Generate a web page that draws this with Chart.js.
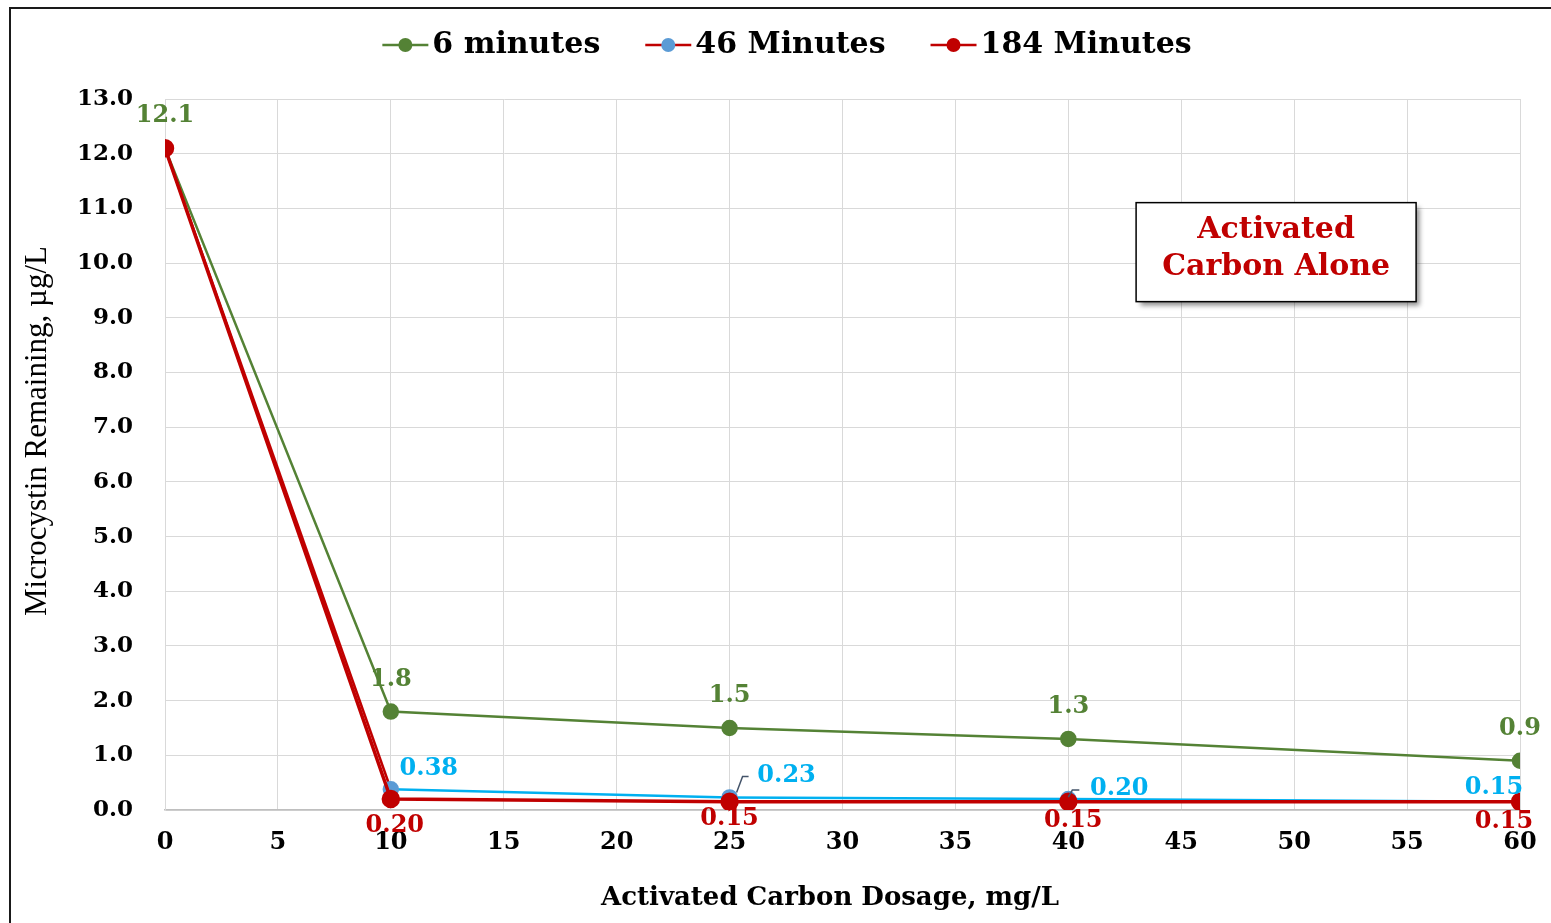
<!DOCTYPE html>
<html>
<head>
<meta charset="utf-8">
<title>Microcystin Remaining vs Activated Carbon Dosage</title>
<script src="https://cdn.jsdelivr.net/npm/chart.js@4/dist/chart.umd.min.js"></script>
<style>
  html, body { margin: 0; padding: 0; background: #fff; overflow: hidden; }
  #wrap { width: 1551px; height: 923px; position: relative; }
  canvas { display: block; }
</style>
</head>
<body>
<div id="wrap"><canvas id="chart" width="1551" height="923"></canvas></div>
<script>
// dosage in mg/L, microcystin remaining in ug/L
const dosages = [0, 10, 25, 40, 60];
const min6 = [12.1, 1.8, 1.5, 1.3, 0.9];
const min46 = [12.1, 0.38, 0.23, 0.20, 0.15];
const min184 = [12.1, 0.20, 0.15, 0.15, 0.15];
const seriesNames = ['6 minutes', '46 Minutes', '184 Minutes'];

const GREEN = '#548235';
const BLUE_LINE = '#00B0F0';
const BLUE_DOT = '#5B9BD5';
const RED = '#C00000';

function toPoints(ys) {
    return dosages.map((x, i) => ({ x: x, y: ys[i] }));
}

// label placement for each series: [dx, dy] from the marker, null = no label
const labelStyle = [
    { color: GREEN, digits: 1, offs: [[0, -32], [0, -32], [0, -32], [0, -32], [0, -32]] },
    { color: BLUE_LINE, digits: 2, offs: [null, [38, -20], [57, -22], [51, -10], [-26, -14]] },
    { color: RED, digits: 2, offs: [null, [4, 27], [0, 17], [5, 19], [-16, 20]] }
];
// small leader lines for the crowded blue labels
const leaders = { 2: [[7, -5], [13, -21], [19, -21]], 3: [[0, -2], [4, -9], [11, -9]] };

const dataLabels = {
    id: 'dataLabels',
    afterDatasetsDraw(chart) {
        const ctx = chart.ctx;
        ctx.save();
        ctx.font = 'bold 24px "DejaVu Serif"';
        ctx.textAlign = 'center';
        ctx.textBaseline = 'middle';
        labelStyle.forEach((st, d) => {
            const meta = chart.getDatasetMeta(d);
            const vals = chart.data.datasets[d].data;
            meta.data.forEach((pt, i) => {
                const o = st.offs[i];
                if (!o) return;
                if (d === 1 && leaders[i]) {
                    ctx.strokeStyle = '#44546A';
                    ctx.lineWidth = 1.5;
                    ctx.beginPath();
                    leaders[i].forEach((p, k) => {
                        if (k === 0) ctx.moveTo(pt.x + p[0], pt.y + p[1]);
                        else ctx.lineTo(pt.x + p[0], pt.y + p[1]);
                    });
                    ctx.stroke();
                }
                ctx.fillStyle = st.color;
                ctx.fillText(vals[i].y.toFixed(st.digits), pt.x + o[0], pt.y + o[1]);
            });
        });
        ctx.restore();
    }
};

// legend, axis titles, note box and outer frame
const decorations = {
    id: 'decorations',
    afterDraw(chart) {
        const ctx = chart.ctx;
        const xs = chart.scales.x, ys = chart.scales.y;
        ctx.save();

        // frame
        ctx.strokeStyle = '#1a1a1a';
        ctx.lineWidth = 2;
        ctx.beginPath();
        ctx.moveTo(10, chart.height);
        ctx.lineTo(10, 8);
        ctx.lineTo(chart.width, 8);
        ctx.stroke();

        // legend
        ctx.font = 'bold 30px "DejaVu Serif"';
        ctx.textBaseline = 'middle';
        ctx.textAlign = 'left';
        const mark = 46, gap = 45, ly = 45;
        const widths = seriesNames.map(n => ctx.measureText(n).width);
        const total = widths.reduce((a, b) => a + b, 0) + seriesNames.length * (mark + 4) + gap * (seriesNames.length - 1);
        let lx = 787 - total / 2;
        chart.data.datasets.forEach((ds, i) => {
            ctx.strokeStyle = ds.borderColor;
            ctx.lineWidth = 2.5;
            ctx.beginPath();
            ctx.moveTo(lx, ly);
            ctx.lineTo(lx + mark, ly);
            ctx.stroke();
            ctx.fillStyle = ds.pointBackgroundColor;
            ctx.beginPath();
            ctx.arc(lx + mark / 2, ly, 7, 0, Math.PI * 2);
            ctx.fill();
            ctx.fillStyle = '#000';
            ctx.fillText(seriesNames[i], lx + mark + 4, ly);
            lx += mark + 4 + widths[i] + gap;
        });

        // axis titles
        ctx.fillStyle = '#000';
        ctx.textAlign = 'center';
        ctx.font = 'bold 26px "DejaVu Serif"';
        ctx.fillText('Activated Carbon Dosage, mg/L', 830, 898);
        ctx.save();
        ctx.translate(38, 431);
        ctx.rotate(-Math.PI / 2);
        ctx.font = '31px "Liberation Serif"';
        ctx.fillText('Microcystin Remaining, \u00b5g/L', 0, 0);
        ctx.restore();

        // note box
        const cx = xs.getPixelForValue(49.2), cy = ys.getPixelForValue(10.2);
        const bw = 280, bh = 99;
        ctx.save();
        ctx.shadowColor = 'rgba(0,0,0,0.45)';
        ctx.shadowBlur = 5;
        ctx.shadowOffsetX = 4;
        ctx.shadowOffsetY = 4;
        ctx.fillStyle = '#fff';
        ctx.fillRect(cx - bw / 2, cy - bh / 2, bw, bh);
        ctx.restore();
        ctx.strokeStyle = '#000';
        ctx.lineWidth = 1.5;
        ctx.strokeRect(cx - bw / 2, cy - bh / 2, bw, bh);
        ctx.fillStyle = RED;
        ctx.font = 'bold 30px "DejaVu Serif"';
        ctx.fillText('Activated', cx, cy - 22);
        ctx.fillText('Carbon Alone', cx, cy + 15);

        ctx.restore();
    }
};

const ctx = document.getElementById('chart').getContext('2d');
const myChart = new Chart(ctx, {
    type: 'line',
    data: {
        datasets: [{
            label: seriesNames[0],
            data: toPoints(min6),
            borderColor: GREEN,
            backgroundColor: GREEN,
            pointBackgroundColor: GREEN,
            pointBorderColor: GREEN,
            borderWidth: 2.5,
            pointRadius: 7,
            order: 3
        }, {
            label: seriesNames[1],
            data: toPoints(min46),
            borderColor: RED,
            backgroundColor: BLUE_DOT,
            pointBackgroundColor: BLUE_DOT,
            pointBorderColor: BLUE_DOT,
            borderWidth: 2.5,
            pointRadius: 7,
            segment: {
                borderColor: c => c.p0DataIndex === 0 ? RED : BLUE_LINE
            },
            order: 2
        }, {
            label: seriesNames[2],
            data: toPoints(min184),
            borderColor: RED,
            backgroundColor: RED,
            pointBackgroundColor: RED,
            pointBorderColor: RED,
            borderWidth: 3.5,
            pointRadius: 7.5,
            order: 1
        }]
    },
    options: {
        responsive: false,
        animation: false,
        layout: { padding: { top: 99, right: 31, left: 0, bottom: 0 } },
        plugins: {
            legend: { display: false },
            tooltip: { enabled: false }
        },
        scales: {
            x: {
                type: 'linear',
                min: 0,
                max: 60,
                ticks: { stepSize: 5, color: '#000', font: { family: 'DejaVu Serif', size: 24, weight: 'bold' }, padding: 18, maxRotation: 0 },
                grid: { color: '#d9d9d9', lineWidth: 1, drawTicks: false },
                border: { color: '#bfbfbf', width: 1.5 },
                afterFit: s => { s.height = 113; s.paddingLeft = 0; s.paddingRight = 0; }
            },
            y: {
                min: 0,
                max: 13,
                ticks: { stepSize: 1, color: '#000', font: { family: 'DejaVu Serif', size: 23, weight: 'bold' }, padding: 32, callback: v => v.toFixed(1) },
                grid: { color: '#d9d9d9', lineWidth: 1, drawTicks: false },
                border: { color: '#d9d9d9', width: 1 },
                afterFit: s => { s.width = 165; s.paddingTop = 0; s.paddingBottom = 0; }
            }
        }
    },
    plugins: [dataLabels, decorations]
});
</script>
</body>
</html>
